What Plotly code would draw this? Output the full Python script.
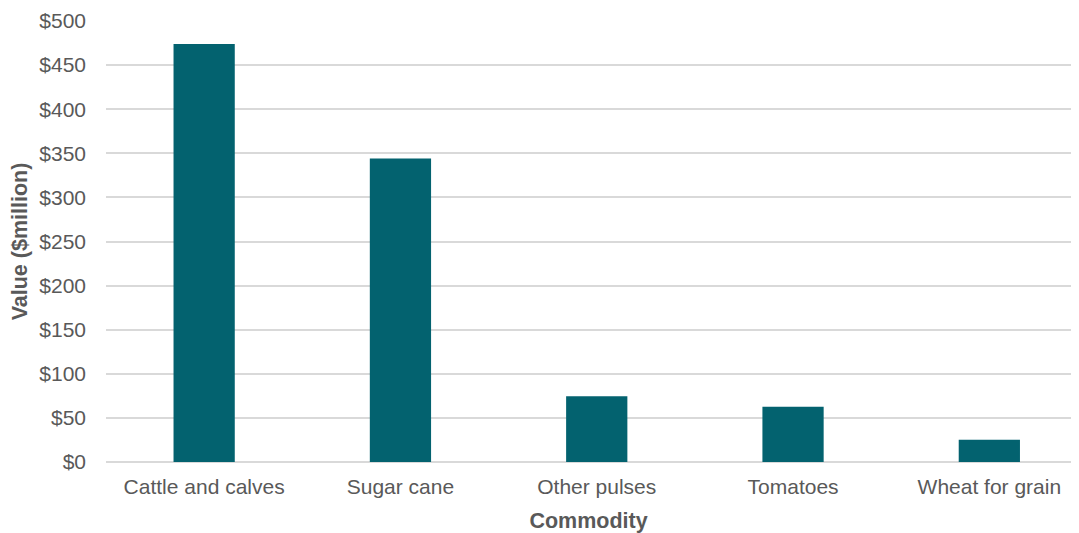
import plotly.graph_objects as go

categories = ["Cattle and calves", "Sugar cane", "Other pulses", "Tomatoes", "Wheat for grain"]
values = [474, 344, 74.5, 62.7, 25.1]
y_ticks = [0, 50, 100, 150, 200, 250, 300, 350, 400, 450, 500]
y_tick_labels = ["$" + str(v) for v in y_ticks]

bar_color = "#03626F"
text_color = "#595959"
grid_color = "#D9D9D9"
font_family = "Liberation Sans, Arial, sans-serif"

fig = go.Figure(
    go.Bar(
        x=categories,
        y=values,
        marker=dict(color=bar_color, line=dict(width=0)),
        hoverinfo="x+y",
    )
)

fig.update_layout(
    width=1063,
    height=525,
    margin=dict(l=97.5, r=0, t=12.5, b=71.4, autoexpand=False),
    plot_bgcolor="white",
    paper_bgcolor="white",
    bargap=0.688,
    showlegend=False,
    font=dict(family=font_family, size=21, color=text_color),
)

fig.update_xaxes(
    type="category",
    range=[-0.5, 4.416],
    showgrid=False,
    showline=False,
    zeroline=False,
    ticks="",
    tickfont=dict(size=21, color=text_color),
    ticklabelstandoff=10,
    ticklabeloverflow="allow",
    title=dict(text="<b>Commodity</b>", font=dict(size=21.5, color=text_color), standoff=20),
)

fig.update_yaxes(
    range=[0, 500],
    tickvals=y_ticks,
    ticktext=y_tick_labels,
    showgrid=True,
    gridcolor=grid_color,
    gridwidth=1.5,
    zeroline=True,
    zerolinecolor=grid_color,
    zerolinewidth=1.5,
    showline=False,
    ticks="",
    tickfont=dict(size=21, color=text_color),
    ticklabelstandoff=19,
    ticklabeloverflow="allow",
    title=dict(text="<b>Value ($million)</b>", font=dict(size=21.5, color=text_color), standoff=9),
)

fig.write_html("out.html")
